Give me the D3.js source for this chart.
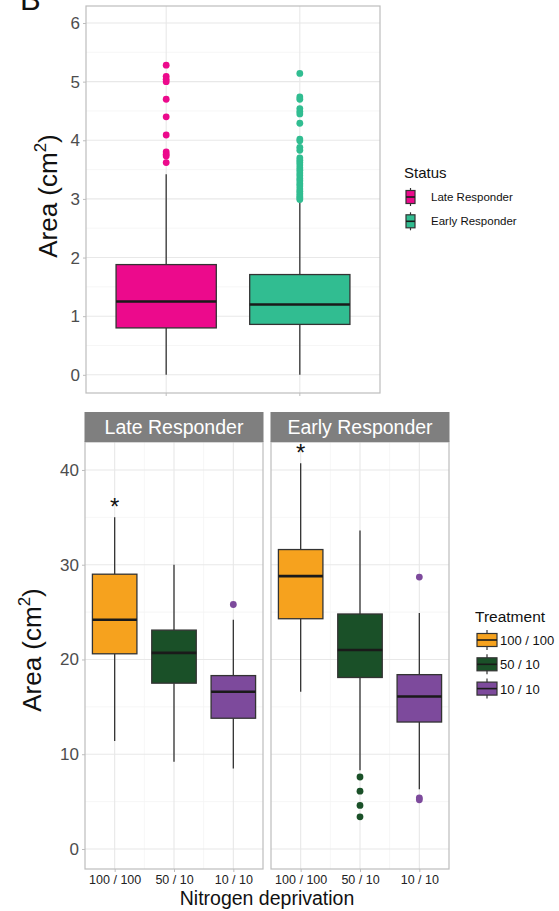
<!DOCTYPE html>
<html>
<head>
<meta charset="utf-8">
<script src="https://cdn.jsdelivr.net/npm/d3@7"></script>
<style>
  body { margin: 0; background: #fff; }
  text { font-family: "Liberation Sans", Arial, sans-serif; }
</style>
</head>
<body>
<div id="chart-area"></div>
<script>
// top panel: area by status
var statusNames = ["Late Responder", "Early Responder"];
var statusColors = ["#ec0a8c", "#31bd91"];
var statusLower = [0, 0];
var statusQ1 = [0.80, 0.86];
var statusMedian = [1.25, 1.20];
var statusQ3 = [1.88, 1.71];
var statusUpper = [3.42, 2.97];
var lateOutliers = [5.28, 5.09, 5.04, 5.00, 4.70, 4.40, 4.09, 3.80, 3.76, 3.73, 3.62];
var earlyOutliers = [5.14, 4.74, 4.70, 4.54, 4.49, 4.45, 4.29, 4.02, 3.99, 3.88, 3.83,
                     3.70, 3.66, 3.62, 3.58, 3.53, 3.49, 3.44, 3.40, 3.35, 3.31, 3.26,
                     3.22, 3.17, 3.13, 3.09, 3.05, 3.02, 2.99];
var topTicks = [0, 1, 2, 3, 4, 5, 6];

// bottom panels: area by treatment, faceted by status
var treatments = ["100 / 100", "50 / 10", "10 / 10"];
var treatColors = ["#f6a21e", "#1a5028", "#7d4a9c"];
var lateLower = [11.4, 9.2, 8.5];
var lateQ1 = [20.6, 17.5, 13.8];
var lateMedian = [24.2, 20.7, 16.6];
var lateQ3 = [29.0, 23.1, 18.3];
var lateUpper = [35.0, 30.0, 24.2];
var lateTreatOutliers = [[], [], [25.8]];
var earlyLower = [16.6, 8.3, 6.3];
var earlyQ1 = [24.3, 18.1, 13.4];
var earlyMedian = [28.8, 21.0, 16.1];
var earlyQ3 = [31.6, 24.8, 18.4];
var earlyUpper = [40.7, 33.6, 24.9];
var earlyTreatOutliers = [[], [7.6, 6.1, 4.6, 3.4], [28.7, 5.4, 5.2]];
var bottomTicks = [0, 10, 20, 30, 40];
var starTreatment = "100 / 100";

var width = 559, height = 911;
var gridMajor = "#e8e8e8", gridMinor = "#f4f4f4", borderCol = "#bdbdbd";

var svg = d3.select("#chart-area")
	.append("svg")
	.attr("width", width)
	.attr("height", height);

// panel letter, cut at the top edge like the figure
svg.append("text")
	.attr("x", 20).attr("y", 10)
	.attr("font-size", "31px")
	.attr("fill", "#111")
	.text("B");

function drawBox(g, cx, bw, yScale, lo, q1, med, q3, hi, outs, fill) {
	g.append("line")
		.attr("x1", cx).attr("x2", cx)
		.attr("y1", yScale(hi)).attr("y2", yScale(q3))
		.attr("stroke", "#333").attr("stroke-width", 1.3);
	g.append("line")
		.attr("x1", cx).attr("x2", cx)
		.attr("y1", yScale(q1)).attr("y2", yScale(lo))
		.attr("stroke", "#333").attr("stroke-width", 1.3);
	g.append("rect")
		.attr("x", cx - bw / 2).attr("width", bw)
		.attr("y", yScale(q3)).attr("height", yScale(q1) - yScale(q3))
		.attr("fill", fill)
		.attr("stroke", "#333").attr("stroke-width", 1.3);
	g.append("line")
		.attr("x1", cx - bw / 2).attr("x2", cx + bw / 2)
		.attr("y1", yScale(med)).attr("y2", yScale(med))
		.attr("stroke", "#1a1a1a").attr("stroke-width", 2.6);
	g.selectAll(null).data(outs).enter().append("circle")
		.attr("cx", cx)
		.attr("cy", (d) => { return yScale(d); })
		.attr("r", 3.4)
		.attr("fill", fill);
}

function drawGrid(g, x, yScale, cats, ticks, minors, x0, x1, y0, y1, minorX) {
	g.selectAll(null).data(minors).enter().append("line")
		.attr("x1", x0).attr("x2", x1)
		.attr("y1", (d) => { return yScale(d); })
		.attr("y2", (d) => { return yScale(d); })
		.attr("stroke", gridMinor).attr("stroke-width", 0.8);
	if (minorX) {
		var step = x.step();
		g.selectAll(null).data(cats.slice(1)).enter().append("line")
			.attr("x1", (d) => { return x(d) - step / 2; })
			.attr("x2", (d) => { return x(d) - step / 2; })
			.attr("y1", y0).attr("y2", y1)
			.attr("stroke", gridMinor).attr("stroke-width", 0.8);
	}
	g.selectAll(null).data(ticks).enter().append("line")
		.attr("x1", x0).attr("x2", x1)
		.attr("y1", (d) => { return yScale(d); })
		.attr("y2", (d) => { return yScale(d); })
		.attr("stroke", gridMajor).attr("stroke-width", 1.1);
	g.selectAll(null).data(cats).enter().append("line")
		.attr("x1", (d) => { return x(d); })
		.attr("x2", (d) => { return x(d); })
		.attr("y1", y0).attr("y2", y1)
		.attr("stroke", gridMajor).attr("stroke-width", 1.1);
}

function yAxis(g, yScale, ticks, xLeft) {
	var ax = g.append("g")
		.attr("transform", "translate(" + xLeft + ",0)")
		.call(d3.axisLeft(yScale).tickValues(ticks).tickFormat(d3.format("d"))
			.tickSize(3).tickPadding(3));
	ax.select(".domain").remove();
	ax.selectAll(".tick line").attr("stroke", borderCol);
	ax.selectAll(".tick text")
		.attr("font-size", "17px")
		.attr("font-family", "Liberation Sans, Arial, sans-serif")
		.attr("fill", "#4d4d4d");
}

function yTitle(g, x, y) {
	var t = g.append("text")
		.attr("transform", "translate(" + x + "," + y + ") rotate(-90)")
		.attr("text-anchor", "middle")
		.attr("font-size", "26px")
		.attr("fill", "#111");
	t.append("tspan").text("Area (cm");
	t.append("tspan").attr("font-size", "17px").attr("dy", -11).text("2");
	t.append("tspan").attr("dy", 11).text(")");
}

// ---------- top panel ----------
var topPanel = {x0: 86, x1: 380, y0: 6, y1: 393};
var yTop = d3.scaleLinear().domain([-0.31, 6.29]).range([topPanel.y1, topPanel.y0]);
var xTop = d3.scalePoint().domain(statusNames).range([topPanel.x0, topPanel.x1]).padding(0.6);
var gTop = svg.append("g");

drawGrid(gTop, xTop, yTop, statusNames, topTicks, [0.5, 1.5, 2.5, 3.5, 4.5, 5.5],
	topPanel.x0, topPanel.x1, topPanel.y0, topPanel.y1, false);

statusNames.forEach((s, i) => {
	drawBox(gTop, xTop(s), xTop.step() * 0.75, yTop,
		statusLower[i], statusQ1[i], statusMedian[i], statusQ3[i], statusUpper[i],
		i === 0 ? lateOutliers : earlyOutliers, statusColors[i]);
});

gTop.append("rect")
	.attr("x", topPanel.x0).attr("y", topPanel.y0)
	.attr("width", topPanel.x1 - topPanel.x0).attr("height", topPanel.y1 - topPanel.y0)
	.attr("fill", "none").attr("stroke", borderCol).attr("stroke-width", 1.2);

yAxis(gTop, yTop, topTicks, topPanel.x0);
gTop.selectAll(null).data(statusNames).enter().append("line")
	.attr("x1", (d) => { return xTop(d); }).attr("x2", (d) => { return xTop(d); })
	.attr("y1", topPanel.y1).attr("y2", topPanel.y1 + 3)
	.attr("stroke", borderCol);
yTitle(gTop, 57, 196);

// status legend
var legTop = svg.append("g").attr("transform", "translate(404,0)");
legTop.append("text").attr("x", 0).attr("y", 178)
	.attr("font-size", "15px").attr("fill", "#111").text("Status");
statusNames.forEach((s, i) => {
	var cy = 197 + i * 24.3;
	legTop.append("line").attr("x1", 6.5).attr("x2", 6.5)
		.attr("y1", cy - 9).attr("y2", cy + 9)
		.attr("stroke", "#333").attr("stroke-width", 1.2);
	legTop.append("rect").attr("x", 2).attr("y", cy - 6.5)
		.attr("width", 9).attr("height", 13)
		.attr("fill", statusColors[i]).attr("stroke", "#333").attr("stroke-width", 1.2);
	legTop.append("line").attr("x1", 2).attr("x2", 11)
		.attr("y1", cy).attr("y2", cy)
		.attr("stroke", "#1a1a1a").attr("stroke-width", 1.6);
	legTop.append("text").attr("x", 27).attr("y", cy + 4)
		.attr("font-size", "11.5px").attr("fill", "#111").text(s);
});

// ---------- bottom facets ----------
var bot = {y0: 442, y1: 869, stripTop: 412};
var yBot = d3.scaleLinear().domain([-2.11, 42.95]).range([bot.y1, bot.y0]);
var facets = [
	{name: "Late Responder", x0: 85, x1: 263,
	 lo: lateLower, q1: lateQ1, med: lateMedian, q3: lateQ3, hi: lateUpper, outs: lateTreatOutliers},
	{name: "Early Responder", x0: 271, x1: 449,
	 lo: earlyLower, q1: earlyQ1, med: earlyMedian, q3: earlyQ3, hi: earlyUpper, outs: earlyTreatOutliers}
];

facets.forEach((f, fi) => {
	var x = d3.scalePoint().domain(treatments).range([f.x0, f.x1]).padding(0.5);
	var g = svg.append("g");
	drawGrid(g, x, yBot, treatments, bottomTicks, [5, 15, 25, 35],
		f.x0, f.x1, bot.y0, bot.y1, true);

	treatments.forEach((t, i) => {
		drawBox(g, x(t), x.step() * 0.75, yBot,
			f.lo[i], f.q1[i], f.med[i], f.q3[i], f.hi[i], f.outs[i], treatColors[i]);
	});

	// significance star above the whisker
	g.append("text")
		.attr("x", x(starTreatment))
		.attr("y", yBot(f.hi[0]) - 2)
		.attr("text-anchor", "middle")
		.attr("font-size", "24px")
		.attr("fill", "#111")
		.text("*");

	g.append("rect")
		.attr("x", f.x0).attr("y", bot.y0)
		.attr("width", f.x1 - f.x0).attr("height", bot.y1 - bot.y0)
		.attr("fill", "none").attr("stroke", borderCol).attr("stroke-width", 1.2);

	g.append("rect")
		.attr("x", f.x0 - 0.5).attr("y", bot.stripTop)
		.attr("width", f.x1 - f.x0 + 1).attr("height", bot.y0 - bot.stripTop)
		.attr("fill", "#7f7f7f");
	g.append("text")
		.attr("x", (f.x0 + f.x1) / 2).attr("y", 434)
		.attr("text-anchor", "middle")
		.attr("font-size", "19.5px")
		.attr("fill", "#fff")
		.text(f.name);

	var ax = g.append("g")
		.attr("transform", "translate(0," + bot.y1 + ")")
		.call(d3.axisBottom(x).tickSize(3).tickPadding(3));
	ax.select(".domain").remove();
	ax.selectAll(".tick line").attr("stroke", borderCol);
	ax.selectAll(".tick text")
		.attr("font-size", "12.5px")
		.attr("font-family", "Liberation Sans, Arial, sans-serif")
		.attr("fill", "#222");

	if (fi === 0) yAxis(g, yBot, bottomTicks, f.x0);
});

yTitle(svg, 41, 650);

svg.append("text")
	.attr("x", 267).attr("y", 905)
	.attr("text-anchor", "middle")
	.attr("font-size", "19.5px")
	.attr("fill", "#111")
	.text("Nitrogen deprivation");

// treatment legend
var legBot = svg.append("g").attr("transform", "translate(475,0)");
legBot.append("text").attr("x", 0).attr("y", 622)
	.attr("font-size", "15.5px").attr("fill", "#111").text("Treatment");
treatments.forEach((t, i) => {
	var cy = 640 + i * 24.3;
	legBot.append("line").attr("x1", 12).attr("x2", 12)
		.attr("y1", cy - 10).attr("y2", cy + 10)
		.attr("stroke", "#333").attr("stroke-width", 1.2);
	legBot.append("rect").attr("x", 2).attr("y", cy - 6.5)
		.attr("width", 20).attr("height", 13)
		.attr("fill", treatColors[i]).attr("stroke", "#333").attr("stroke-width", 1.2);
	legBot.append("line").attr("x1", 2).attr("x2", 22)
		.attr("y1", cy).attr("y2", cy)
		.attr("stroke", "#1a1a1a").attr("stroke-width", 1.6);
	legBot.append("text").attr("x", 25).attr("y", cy + 5)
		.attr("font-size", "13px").attr("fill", "#111").text(t);
});
</script>
</body>
</html>
